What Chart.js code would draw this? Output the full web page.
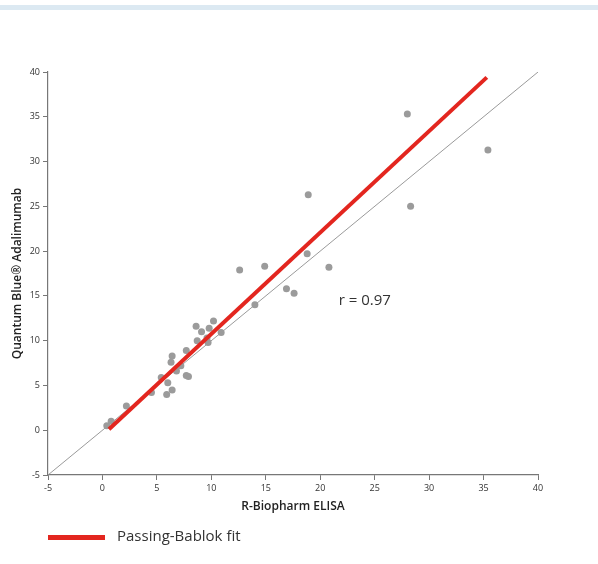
<!DOCTYPE html>
<html>
<head>
<meta charset="utf-8">
<script src="https://cdn.jsdelivr.net/npm/chart.js@4/dist/chart.umd.min.js"></script>
<style>
  body { margin: 0; background: #fff; }
  canvas { display: block; }
</style>
</head>
<body>
<canvas id="myChart" width="598" height="564"></canvas>
<script>
// values
const elisaValues = [0.4, 0.8, 2.2, 4.5, 5.4, 6.0, 5.9, 6.4, 6.3, 6.4, 6.8, 7.2, 7.7, 7.7, 7.9,
    8.6, 9.1, 8.7, 9.8, 10.2, 9.6, 9.7, 10.9, 14.0, 12.6, 14.9, 18.8, 20.8, 16.9, 17.6,
    18.9, 28.0, 28.3, 35.4];
const quantumValues = [0.5, 1.0, 2.7, 4.2, 5.9, 5.3, 4.0, 4.5, 7.6, 8.3, 6.6, 7.2, 8.9, 6.1, 6.0,
    11.6, 11.0, 10.0, 11.4, 12.2, 10.3, 9.8, 10.9, 14.0, 17.9, 18.3, 19.7, 18.2, 15.8, 15.3,
    26.3, 35.3, 25.0, 31.3];
const fitX = [0.6, 35.3];
const fitY = [0.1, 39.4];
const identityX = [-5, 40];
const tickValues = [-5, 0, 5, 10, 15, 20, 25, 30, 35, 40];
const correlationText = "r = 0.97";
const legendText = "Passing-Bablok fit";

const fontFamily = "'Open Sans', 'DejaVu Sans', sans-serif";

const extras = {
    id: "extras",
    beforeDraw(chart) {
        const c = chart.ctx;
        c.save();
        c.fillStyle = "#dce9f2";
        c.fillRect(0, 5, chart.width, 5);
        c.restore();
    },
    afterDraw(chart) {
        const c = chart.ctx;
        const xs = chart.scales.x, ys = chart.scales.y;
        c.save();
        c.fillStyle = "#333";
        c.font = "15px " + fontFamily;
        c.textBaseline = "middle";
        c.fillText(correlationText, xs.getPixelForValue(21.7), ys.getPixelForValue(14.5));

        // legend
        c.fillStyle = "#e3261f";
        c.fillRect(48, 535, 57, 5);
        c.fillStyle = "#333";
        c.font = "15px " + fontFamily;
        c.fillText(legendText, 117, 537);
        c.restore();
    }
};

const points = elisaValues.map((v, i) => ({ x: v, y: quantumValues[i] }));

const data = {
    datasets: [
        {
            label: legendText,
            type: "line",
            data: fitX.map((v, i) => ({ x: v, y: fitY[i] })),
            borderColor: "#e3261f",
            borderWidth: 4,
            pointRadius: 0,
            borderCapStyle: "butt"
        },
        {
            label: "samples",
            data: points,
            backgroundColor: "#9b9b9b",
            borderWidth: 0,
            pointRadius: 3.5
        },
        {
            label: "identity",
            type: "line",
            data: identityX.map(v => ({ x: v, y: v })),
            borderColor: "#9a9a9a",
            borderWidth: 1,
            pointRadius: 0
        }
    ]
};

const axisCommon = {
    type: "linear",
    min: -5,
    max: 40,
    afterBuildTicks(scale) {
        scale.ticks = tickValues.map(v => ({ value: v }));
    },
    border: { color: "#777", width: 1.2 },
    grid: { drawOnChartArea: false, drawTicks: true, tickLength: 5, color: "#777" },
    ticks: { color: "#333", font: { family: fontFamily, size: 9 }, padding: 3 }
};

const config = {
    type: "scatter",
    data: data,
    options: {
        responsive: false,
        animation: false,
        layout: { padding: { left: 0, right: 60, top: 72, bottom: 49 } },
        plugins: { legend: { display: false }, tooltip: { enabled: false } },
        scales: {
            x: Object.assign({}, axisCommon, {
                afterFit(scale) { scale.height = 40; },
                title: { display: true, text: "R-Biopharm ELISA", color: "#222",
                    font: { family: fontFamily, size: 12, weight: "600" }, padding: { bottom: 1 } }
            }),
            y: Object.assign({}, axisCommon, {
                afterFit(scale) { scale.width = 48; },
                title: { display: true, text: "Quantum Blue® Adalimumab", color: "#222",
                    font: { family: fontFamily, size: 12, weight: "600" }, padding: { top: 10 } }
            })
        }
    },
    plugins: [extras]
};

const myChart = new Chart(document.getElementById("myChart"), config);
</script>
</body>
</html>
